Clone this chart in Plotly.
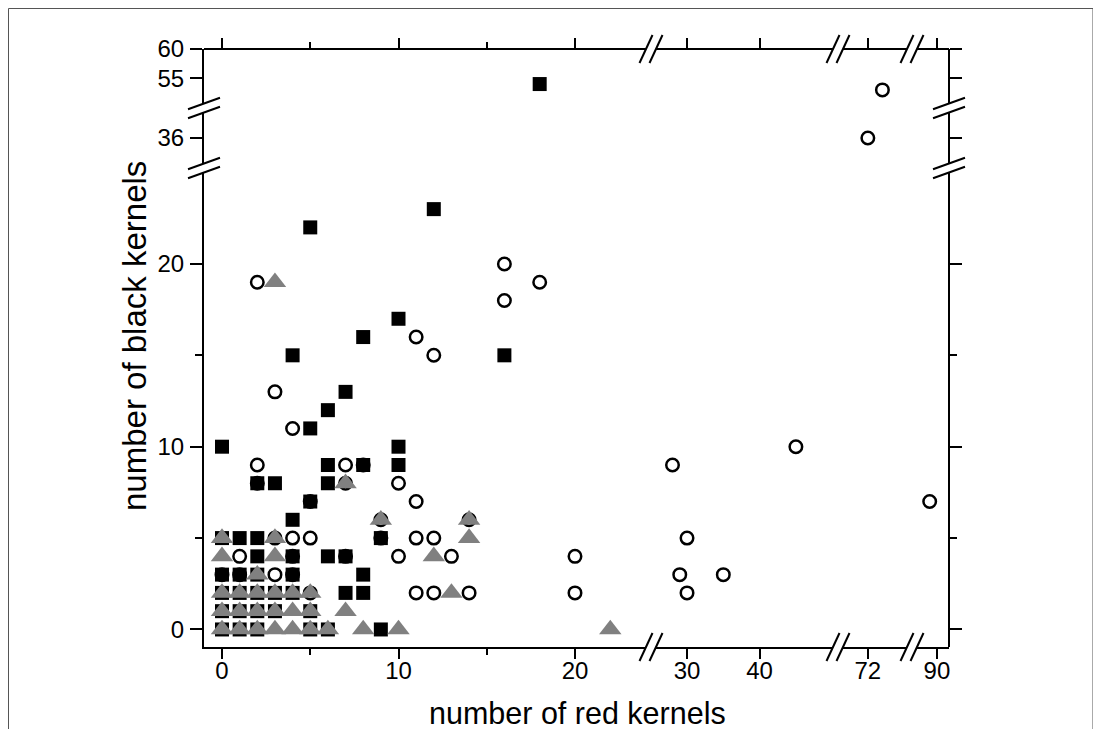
import plotly.graph_objects as go

# ---------------- data ----------------
square_x = [0, 10, 10, 6, 8, 2, 3, 6, 5, 4, 9, 0, 1, 2, 2, 4, 6, 7, 0, 1, 2, 4, 8,
            0, 1, 2, 3, 4, 7, 8, 0, 1, 2, 3, 5, 0, 1, 2, 5, 6, 9,
            5, 12, 10, 8, 4, 16, 7, 6, 5, 18]
square_y = [10, 10, 9, 9, 9, 8, 8, 8, 7, 6, 5, 5, 5, 5, 4, 4, 4, 4, 3, 3, 3, 3, 3,
            2, 2, 2, 2, 2, 2, 2, 1, 1, 1, 1, 1, 0, 0, 0, 0, 0, 0,
            22, 23, 17, 16, 15, 15, 13, 12, 11, 54]

circle_x = [2, 16, 18, 16, 11, 12, 3, 4, 2, 7, 8, 2, 10, 7, 5, 11, 9, 14, 3, 4, 5, 9,
            11, 12, 1, 4, 7, 10, 13, 20, 0, 1, 3, 4, 5, 11, 12, 14, 20,
            28, 30, 29, 30, 35, 45, 89, 72, 74]
circle_y = [19, 20, 19, 18, 16, 15, 13, 11, 9, 9, 9, 8, 8, 8, 7, 7, 6, 6, 5, 5, 5, 5,
            5, 5, 4, 4, 4, 4, 4, 4, 3, 3, 3, 3, 2, 2, 2, 2, 2,
            9, 5, 3, 2, 3, 10, 7, 36, 53]

triangle_x = [3, 7, 9, 14, 0, 3, 14, 0, 3, 12, 2, 0, 1, 2, 3, 4, 5, 13,
              0, 1, 2, 3, 4, 5, 7, 0, 1, 2, 3, 4, 5, 6, 8, 10, 22]
triangle_y = [19, 8, 6, 6, 5, 5, 5, 4, 4, 4, 3, 2, 2, 2, 2, 2, 2, 2,
              1, 1, 1, 1, 1, 1, 1, 0, 0, 0, 0, 0, 0, 0, 0, 0, 0]

# broken-axis segments (data ranges) and their ticks
x_ranges = [(-1.02, 24.25), (24.9, 50.8), (67.9, 78.2), (86.7, 91.66)]
x_tickvals = [[0, 10, 20], [30, 40], [72], [90]]
x_minorvals = [[5, 15], [], [], []]
y_ranges = [(-0.96, 25.25), (30.9, 41.1), (49.9, 60)]
y_tickvals = [[0, 10, 20], [36], [55, 60]]
y_minorvals = [[5, 15], [], []]

x_title = "number of red kernels"
y_title = "number of black kernels"

# ---------------- layout geometry (screen pixels) ----------------
OFF = 8                       # page body margin
W, H = 1101 - OFF, 729 - OFF
L, R, T, B = 204, 949, 49, 647
x_edges_px = [204, 650, 838, 913, 949]
y_edges_px = [647, 168, 108, 49]


def px2paper(px, py):
    return (px - L) / (R - L), (B - py) / (B - T)


x_domains = [[px2paper(x_edges_px[i], 0)[0], px2paper(x_edges_px[i + 1], 0)[0]] for i in range(4)]
y_domains = [[px2paper(0, y_edges_px[i])[1], px2paper(0, y_edges_px[i + 1])[1]] for i in range(3)]
x_domains[-1][1] = 1.0
y_domains[-1][1] = 1.0
x_domains[0][0] = 0.0
y_domains[0][0] = 0.0

FONT = "Arial, Liberation Sans, sans-serif"


def seg_index(v, ranges):
    for i, (a, b) in enumerate(ranges):
        if a <= v <= b:
            return i
    return None


fig = go.Figure()

series = [
    ("squares", square_x, square_y, dict(symbol="square", size=14, color="black", line=dict(width=0))),
    ("circles", circle_x, circle_y, dict(symbol="circle-open", size=12.5, color="black", line=dict(width=2.5))),
    ("triangles", triangle_x, triangle_y, dict(symbol="triangle-up", size=19.5, color="#808080", line=dict(width=0))),
]

for name, xs, ys, mk in series:
    groups = {}
    for xv, yv in zip(xs, ys):
        i = seg_index(xv, x_ranges)
        j = seg_index(yv, y_ranges)
        if i is None or j is None:
            continue
        groups.setdefault((i, j), ([], []))
        groups[(i, j)][0].append(xv)
        groups[(i, j)][1].append(yv)
    for (i, j), (gx, gy) in sorted(groups.items()):
        fig.add_trace(go.Scatter(
            x=gx, y=gy, mode="markers", marker=mk, name=name, showlegend=False,
            xaxis="x" if i == 0 else f"x{i + 1}",
            yaxis="y" if j == 0 else f"y{j + 1}",
            cliponaxis=False, hoverinfo="x+y"))

# empty traces so that the top / right overlay axes are realised
for i in range(4):
    fig.add_trace(go.Scatter(x=[None], y=[None], xaxis=f"x{i + 5}", yaxis="y",
                             mode="markers", showlegend=False, hoverinfo="skip"))
for j in range(3):
    fig.add_trace(go.Scatter(x=[None], y=[None], xaxis="x", yaxis=f"y{j + 4}",
                             mode="markers", showlegend=False, hoverinfo="skip"))

axis_common = dict(showgrid=False, zeroline=False, showline=True, linecolor="black",
                   linewidth=2, ticks="outside", tickcolor="black", tickwidth=2,
                   tickfont=dict(family=FONT, size=24, color="black"), fixedrange=True)


def minor(vals, ln):
    return dict(tickvals=vals, ticklen=ln, ticks="outside", tickcolor="black",
                tickwidth=2, showgrid=False)


layout = dict(width=W, height=H, margin=dict(l=L - OFF, r=W - (R - OFF), t=T - OFF, b=H - (B - OFF)),
              plot_bgcolor="white", paper_bgcolor="white", showlegend=False)

# bottom and top x axes
for i in range(4):
    key = "xaxis" if i == 0 else f"xaxis{i + 1}"
    layout[key] = dict(axis_common, domain=x_domains[i], range=list(x_ranges[i]), anchor="y",
                       tickmode="array", tickvals=x_tickvals[i], ticklen=10, ticklabelstandoff=-9,
                       minor=minor(x_minorvals[i], 6))
    base = "x" if i == 0 else f"x{i + 1}"
    layout[f"xaxis{i + 5}"] = dict(axis_common, overlaying=base, side="top", anchor="free", position=1,
                                   range=list(x_ranges[i]), tickmode="array", tickvals=x_tickvals[i],
                                   ticklen=10, showticklabels=False, minor=minor(x_minorvals[i], 6))

# left and right y axes
for j in range(3):
    key = "yaxis" if j == 0 else f"yaxis{j + 1}"
    layout[key] = dict(axis_common, domain=y_domains[j], range=list(y_ranges[j]), anchor="x",
                       tickmode="array", tickvals=y_tickvals[j], ticklen=12, ticklabelstandoff=1,
                       minor=minor(y_minorvals[j], 7))
    base = "y" if j == 0 else f"y{j + 1}"
    layout[f"yaxis{j + 4}"] = dict(axis_common, overlaying=base, side="right", anchor="free", position=1,
                                   range=list(y_ranges[j]), tickmode="array", tickvals=y_tickvals[j],
                                   ticklen=12, showticklabels=False, minor=minor(y_minorvals[j], 7))

fig.update_layout(**layout)

shapes = []


def path_from_px(points):
    parts = []
    for k, (px, py) in enumerate(points):
        x, y = px2paper(px, py)
        parts.append(("M" if k == 0 else "L") + f"{x:.5f},{y:.5f}")
    return " ".join(parts) + " Z"


def line_px(x0, y0, x1, y1):
    a = px2paper(x0, y0)
    b = px2paper(x1, y1)
    return dict(type="line", xref="paper", yref="paper", x0=a[0], y0=a[1], x1=b[0], y1=b[1],
                line=dict(color="black", width=2), layer="above")


# x-axis break marks "//"
for cx in [651, 838, 912]:
    for cy in [B, T]:
        k = 6.5 / 14
        shapes.append(dict(type="path", xref="paper", yref="paper",
                           path=path_from_px([(cx - 5 - 4 * k, cy + 4), (cx - 5 + 4 * k, cy - 4),
                                              (cx + 5 + 4 * k, cy - 4), (cx + 5 - 4 * k, cy + 4)]),
                           fillcolor="white", line=dict(width=0), layer="above"))
        for off in (-5, 5):
            shapes.append(line_px(cx + off - 6.5, cy + 14, cx + off + 6.5, cy - 14))

# y-axis break marks
for cy in [108, 168]:
    for cx in [L, R]:
        s = 0.36
        shapes.append(dict(type="path", xref="paper", yref="paper",
                           path=path_from_px([(cx - 4, cy - 4.5 + 4 * s), (cx + 4, cy - 4.5 - 4 * s),
                                              (cx + 4, cy + 4.5 - 4 * s), (cx - 4, cy + 4.5 + 4 * s)]),
                           fillcolor="white", line=dict(width=0), layer="above"))
        for off in (-4.5, 4.5):
            shapes.append(line_px(cx - 16, cy + off + 16 * s, cx + 16, cy + off - 16 * s))

# outer frame
fx0, fy0 = px2paper(8.5, 8.5)
fx1, fy1 = px2paper(1093, 760)
shapes.append(dict(type="rect", xref="paper", yref="paper", x0=fx0, y0=fy1, x1=fx1, y1=fy0,
                   line=dict(color="#555555", width=1), layer="below"))

fig.update_layout(shapes=shapes)

tx, ty = px2paper(427, 713)
yx, yy = px2paper(134, 336)
fig.update_layout(annotations=[
    dict(text=x_title, xref="paper", yref="paper", x=tx, y=ty, xanchor="left", yanchor="middle",
         showarrow=False, font=dict(family=FONT, size=30.5, color="black")),
    dict(text=y_title, xref="paper", yref="paper", x=yx, y=yy, xanchor="center", yanchor="middle",
         textangle=-90, showarrow=False, font=dict(family=FONT, size=33, color="black")),
])

fig.write_html("out.html")
